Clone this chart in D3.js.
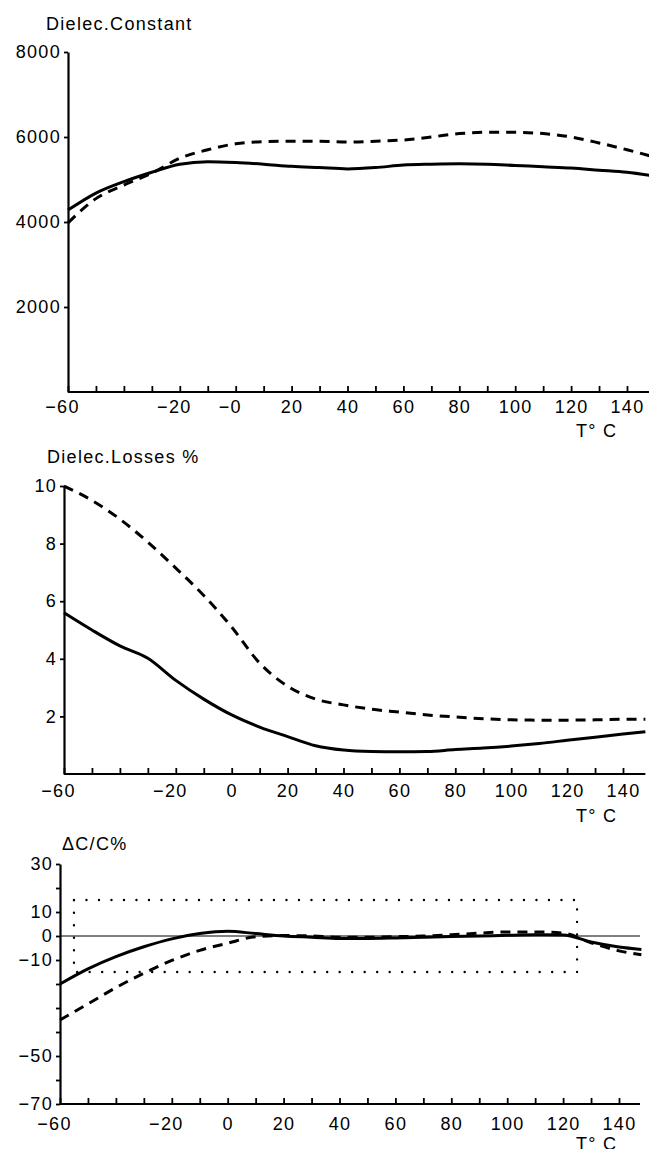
<!DOCTYPE html>
<html>
<head>
<meta charset="utf-8">
<script src="https://cdn.jsdelivr.net/npm/d3@7"></script>
<style>
  body { margin: 0; background: #fff; }
  text { font-family: "Liberation Sans", Arial, sans-serif; font-size: 18px; letter-spacing: 1.3px; fill: #000; }
</style>
</head>
<body>
<svg id="chart" width="649" height="1149"></svg>
<script>
var temps = [-60, -50, -40, -30, -20, -10, 0, 10, 20, 30, 40, 50, 60, 70, 80, 90, 100, 110, 120, 130, 140, 148];

// panel 1 - dielectric constant
var constSolid  = [4280, 4680, 4950, 5170, 5360, 5420, 5400, 5360, 5310, 5280, 5250, 5280, 5340, 5360, 5370, 5360, 5330, 5300, 5270, 5220, 5170, 5100];
var constDashed = [3980, 4550, 4870, 5150, 5500, 5700, 5840, 5890, 5900, 5900, 5880, 5900, 5930, 6000, 6080, 6110, 6110, 6080, 6000, 5860, 5700, 5560];

// panel 2 - dielectric losses %
var lossSolid  = [5.6, 5.0, 4.45, 4.02, 3.25, 2.6, 2.05, 1.63, 1.3, 0.98, 0.83, 0.78, 0.77, 0.78, 0.85, 0.9, 0.97, 1.06, 1.17, 1.28, 1.39, 1.47];
var lossDashed = [10, 9.5, 8.85, 8.05, 7.15, 6.2, 5.1, 3.85, 3.05, 2.6, 2.4, 2.25, 2.15, 2.05, 1.98, 1.92, 1.88, 1.87, 1.87, 1.88, 1.9, 1.9];

// panel 3 - capacitance change dC/C %
var dcSolid  = [-20, -13.7, -8.6, -4.5, -1.2, 1.0, 2, 1, 0, -0.5, -1, -1, -0.8, -0.5, -0.2, 0, 0.3, 0.5, 0.4, -2.5, -4.6, -5.6];
var dcDashed = [-35, -28.3, -21.5, -15.5, -10.2, -6, -3, -0.3, 0.2, 0, -0.5, -0.5, -0.3, 0, 0.5, 1.2, 1.7, 1.7, 1.2, -2.8, -6.2, -7.8];
var tolTemp = [-55, 125];
var tolPct  = [-15, 15];

// tick labels
var xTicks = [-60, -50, -40, -30, -20, -10, 0, 10, 20, 30, 40, 50, 60, 70, 80, 90, 100, 110, 120, 130, 140];
var xLabels = [-60, -20, 0, 20, 40, 60, 80, 100, 120, 140];
var constTicks = [2000, 4000, 6000, 8000];
var lossTicks = [2, 4, 6, 8, 10];
var dcTicks = [-70, -60, -50, -40, -30, -20, -10, 0, 10, 20, 30];
var dcLabels = [30, 10, 0, -10, -50, -70];

var svg = d3.select("#chart");

function fmt(v) { return v < 0 ? "\u2212" + Math.abs(v) : String(v); }

function panel(p) {
    var g = svg.append("g");
    var x = d3.scaleLinear().domain([-60, 150]).range([p.x0, p.x0 + 21 * 27.95]);
    var y = d3.scaleLinear().domain(p.yDomain).range(p.yRange);

    // x axis, ticks pointing up
    var xa = g.append("g")
        .attr("transform", "translate(0," + p.yRange[0] + ")")
        .call(d3.axisBottom(x).tickValues(xTicks).tickSizeInner(-6).tickSizeOuter(0).tickPadding(p.xPad)
            .tickFormat(function (d) {
                if (xLabels.indexOf(d) < 0) return "";
                return (p.minusZero && d === 0) ? "\u22120" : fmt(d);
            }));
    xa.select(".domain").attr("d", "M" + x(-60) + ",0H" + x(p.xEnd)).attr("stroke-width", 2.2);
    xa.selectAll(".tick line").attr("stroke-width", 1.8);
    xa.selectAll(".tick text")
        .attr("font-size", null).attr("font-family", null)
        .attr("dx", function (d) { return (d < 0 || (p.minusZero && d === 0)) ? -6 : 0; });

    // y axis
    var ya = g.append("g")
        .attr("transform", "translate(" + p.x0 + ",0)")
        .call(d3.axisLeft(y).tickValues(p.yTicks).tickSizeInner(4).tickSizeOuter(0).tickPadding(3)
            .tickFormat(function (d) { return p.yLabels.indexOf(d) < 0 ? "" : fmt(d); }));
    ya.select(".domain").attr("stroke-width", 2.2);
    ya.selectAll(".tick line").attr("stroke-width", 1.8);
    ya.selectAll(".tick text").attr("font-size", null).attr("font-family", null);

    svg.append("text").attr("x", p.titleX).attr("y", p.titleY).text(p.title);
    svg.append("text").attr("x", 576).attr("y", p.unitY).text("T\u00b0 C");

    var line = d3.line()
        .x(function (d, i) { return x(temps[i]); })
        .y(function (d) { return y(d); })
        .curve(d3.curveMonotoneX);

    if (p.extra) p.extra(g, x, y);

    g.append("path").datum(p.solid)
        .attr("fill", "none").attr("stroke", "#000").attr("stroke-width", 3)
        .attr("stroke-linejoin", "round").attr("d", line);
    g.append("path").datum(p.dashed)
        .attr("fill", "none").attr("stroke", "#000").attr("stroke-width", 3)
        .attr("stroke-dasharray", "10,7").attr("d", line);
}

panel({
    x0: 68, xEnd: 150, xPad: 8, minusZero: true,
    yDomain: [0, 8000], yRange: [392, 52], yTicks: constTicks, yLabels: constTicks,
    title: "Dielec.Constant", titleX: 46, titleY: 30, unitY: 437,
    solid: constSolid, dashed: constDashed
});

panel({
    x0: 64, xEnd: 148, xPad: 10,
    yDomain: [0, 10], yRange: [774, 486], yTicks: lossTicks, yLabels: lossTicks,
    title: "Dielec.Losses %", titleX: 47, titleY: 463, unitY: 822,
    solid: lossSolid, dashed: lossDashed
});

panel({
    x0: 60, xEnd: 147.5, xPad: 13.5,
    yDomain: [-70, 30], yRange: [1104, 864], yTicks: dcTicks, yLabels: dcLabels,
    title: "\u0394C/C%", titleX: 62, titleY: 850, unitY: 1150,
    solid: dcSolid, dashed: dcDashed,
    extra: function (g, x, y) {
        g.append("line")
            .attr("x1", x(-60)).attr("x2", x(147.5))
            .attr("y1", y(0)).attr("y2", y(0))
            .attr("stroke", "#000").attr("stroke-width", 1);
        g.append("rect")
            .attr("x", x(tolTemp[0])).attr("y", y(tolPct[1]))
            .attr("width", x(tolTemp[1]) - x(tolTemp[0]))
            .attr("height", y(tolPct[0]) - y(tolPct[1]))
            .attr("fill", "none").attr("stroke", "#000").attr("stroke-width", 2.4)
            .attr("stroke-linecap", "round").attr("stroke-dasharray", "0,12.5");
    }
});
</script>
</body>
</html>
